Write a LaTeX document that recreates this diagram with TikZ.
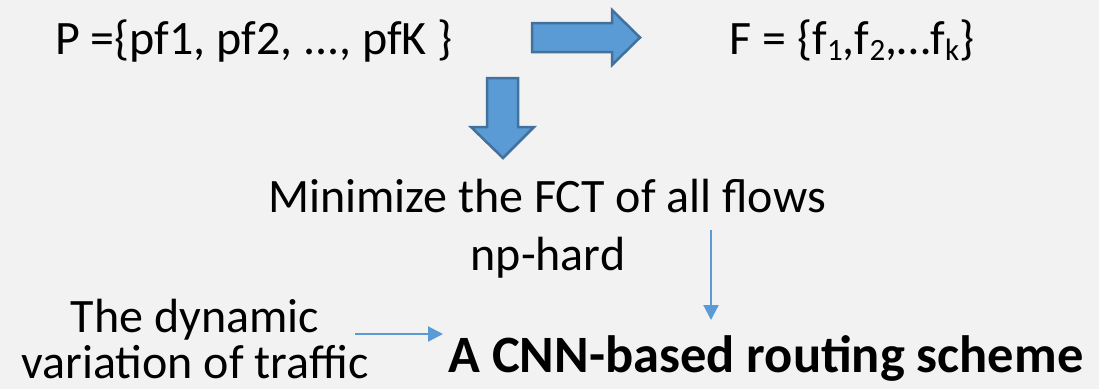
\documentclass[tikz,border=0pt]{standalone}
\usepackage{fontspec}
\setmainfont{Carlito}
\usetikzlibrary{arrows.meta}
\definecolor{bg}{HTML}{F2F2F2}
\definecolor{afill}{HTML}{5B9BD5}
\definecolor{aline}{HTML}{41719C}
\newcommand{\mysb}[1]{\raisebox{-0.28ex}{\fontsize{31}{31}\selectfont #1}}
\tikzset{
  txt/.style={inner sep=0pt, anchor=base, font=\fontsize{48}{56}\selectfont},
  btxt/.style={inner sep=0pt, anchor=base, font=\fontsize{52.5}{60}\selectfont\bfseries},
  blockarrow/.style={fill=afill, draw=aline, line width=2.5pt, line join=miter},
  thinarrow/.style={draw=afill, line width=2.2pt, -{Triangle[length=15pt,width=15pt]}}
}
\begin{document}
\begin{tikzpicture}[x=1pt,y=-1pt]
\useasboundingbox (0,0) rectangle (1099,389);
\fill[bg] (0,0) rectangle (1099,389);
% texts
\node[txt] (P) at (254,54) {P =\{pf1, pf2, ..., pfK \}};
\node[txt] (F) at (852,54) {F = \{f\mysb{1},f\mysb{2},…f\mysb{k}\}};
\node[txt] (M) at (547,212) {Minimize the FCT of all flows};
\node[txt] (NP) at (548,270) {np-hard};
\node[txt] (D1) at (195,332) {The dynamic};
\node[txt] (D2) at (195,378) {variation of traffic};
\node[btxt] (CNN) at (766,372) {A CNN-based routing scheme};
% block arrows
\draw[blockarrow] (532,23) -- (612,23) -- (612,10) -- (640,37.5) -- (612,65) -- (612,52) -- (532,52) -- cycle;
\draw[blockarrow] (487,78) -- (518,78) -- (518,127) -- (534,127) -- (503,158) -- (471,127) -- (487,127) -- cycle;
% thin arrows
\coordinate (v1) at (711,230);
\coordinate (v2) at (711,320);
\coordinate (h1) at (355,334);
\coordinate (h2) at (443,334);
\draw[thinarrow] (v1) -- (v2);
\draw[thinarrow] (h1) -- (h2);
\end{tikzpicture}
\end{document}
